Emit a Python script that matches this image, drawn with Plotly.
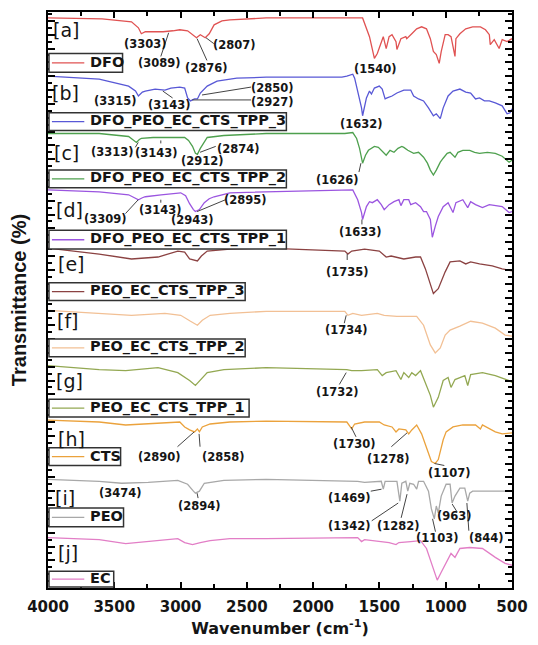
import plotly.graph_objects as go

# ---------------- data (wavenumber, relative transmittance) ----------------
names = ["DFO", "DFO_PEO_EC_CTS_TPP_3", "DFO_PEO_EC_CTS_TPP_2", "DFO_PEO_EC_CTS_TPP_1",
         "PEO_EC_CTS_TPP_3", "PEO_EC_CTS_TPP_2", "PEO_EC_CTS_TPP_1", "CTS", "PEO", "EC"]
tags = ["[a]", "[b]", "[c]", "[d]", "[e]", "[f]", "[g]", "[h]", "[i]", "[j]"]
colors = ["#e05252", "#5858d6", "#4ea04e", "#9b55e0", "#8b4242",
          "#f2c095", "#93a852", "#eba23c", "#a8a8a8", "#e27ec6"]
offsets = [477, 418, 360, 302, 243, 180, 123, 68, 8, -49]

wn_a = [4000, 3592, 3370, 3318, 3296, 3266, 3207, 3132, 3058, 3006, 2947, 2903, 2880, 2851, 2836, 2814, 2784, 2747, 2688, 2628, 2354, 1627, 1575, 1553, 1538, 1516, 1486, 1471, 1449, 1427, 1405, 1375, 1368, 1338, 1301, 1294, 1256, 1219, 1182, 1145, 1116, 1093, 1071, 1049, 1034, 1004, 982, 960, 930, 923, 893, 849, 797, 738, 700, 671, 664, 634, 597, 574, 537, 500]
t_a = [100, 99, 96, 90, 84, 86, 86, 86, 87, 88, 87, 82, 80, 83, 82, 80, 84, 93, 97, 98, 100, 100, 81, 66, 59, 64, 76, 81, 69, 81, 83, 76, 68, 79, 81, 79, 84, 89, 91, 89, 79, 66, 63, 54, 66, 83, 83, 81, 61, 79, 84, 89, 91, 91, 88, 83, 73, 78, 69, 78, 76, 79]

wn_b = [4000, 3614, 3392, 3340, 3318, 3288, 3266, 3192, 3118, 3073, 3006, 2969, 2947, 2925, 2895, 2873, 2851, 2799, 2725, 2576, 2354, 1783, 1746, 1724, 1701, 1687, 1664, 1635, 1627, 1612, 1598, 1575, 1560, 1538, 1501, 1479, 1457, 1442, 1405, 1368, 1316, 1264, 1242, 1205, 1167, 1130, 1093, 1071, 1041, 1019, 982, 945, 893, 849, 812, 775, 745, 708, 671, 626, 574, 537, 515, 500]
t_b = [100, 97, 90, 85, 80, 84, 85, 87, 86, 88, 89, 88, 78, 75, 77, 77, 83, 90, 95, 98, 99, 99, 100, 101, 102, 98, 85, 68, 60, 68, 78, 85, 82, 88, 90, 87, 77, 78, 80, 83, 86, 86, 80, 77, 75, 68, 60, 62, 57, 68, 80, 85, 87, 84, 83, 77, 78, 75, 75, 73, 70, 62, 63, 67]

wn_c = [4000, 3614, 3392, 3348, 3333, 3311, 3296, 3207, 3147, 3058, 2969, 2940, 2910, 2888, 2873, 2851, 2821, 2799, 2673, 2354, 1761, 1701, 1672, 1650, 1627, 1605, 1583, 1560, 1538, 1508, 1486, 1449, 1420, 1390, 1360, 1331, 1316, 1286, 1242, 1205, 1167, 1138, 1116, 1093, 1071, 1041, 1019, 989, 967, 945, 930, 908, 871, 819, 782, 745, 686, 626, 574, 522, 500]
t_c = [100, 100, 97, 93, 91, 94, 95, 96, 96, 96, 96, 93, 87, 80, 79, 85, 91, 96, 98, 100, 100, 101, 95, 85, 70, 78, 83, 85, 87, 86, 83, 78, 83, 81, 85, 87, 86, 83, 80, 81, 76, 70, 63, 58, 63, 71, 75, 80, 81, 78, 76, 81, 83, 83, 81, 80, 81, 80, 77, 71, 73]

wn_d = [4000, 3614, 3392, 3340, 3318, 3288, 3266, 3147, 2999, 2962, 2932, 2903, 2888, 2858, 2821, 2784, 2747, 2628, 2354, 1701, 1664, 1635, 1627, 1598, 1575, 1553, 1516, 1486, 1464, 1427, 1390, 1353, 1338, 1316, 1279, 1264, 1227, 1190, 1167, 1145, 1116, 1101, 1079, 1056, 1019, 982, 945, 923, 871, 834, 812, 775, 723, 671, 574, 522, 500]
t_d = [101, 99, 96, 93, 91, 93, 94, 96, 98, 95, 87, 81, 79, 81, 88, 92, 94, 98, 99, 101, 91, 78, 71, 84, 89, 88, 91, 86, 81, 86, 89, 91, 85, 91, 91, 86, 88, 84, 79, 79, 71, 53, 64, 74, 84, 88, 78, 88, 91, 83, 89, 86, 83, 86, 84, 78, 79]

wn_e = [4000, 3614, 3370, 3170, 3021, 2969, 2932, 2873, 2843, 2799, 2628, 2354, 1761, 1738, 1709, 1612, 1501, 1449, 1412, 1316, 1227, 1190, 1153, 1116, 1093, 1056, 1004, 967, 893, 849, 812, 745, 649, 574, 500]
t_e = [101, 95, 90, 92, 98, 97, 90, 88, 93, 98, 100, 101, 98, 95, 98, 100, 98, 92, 93, 90, 92, 92, 80, 63, 55, 60, 77, 87, 88, 85, 87, 85, 83, 80, 78]

wn_f = [4000, 3614, 3370, 3118, 2999, 2925, 2873, 2836, 2777, 2628, 2354, 1761, 1738, 1701, 1635, 1516, 1464, 1368, 1219, 1167, 1116, 1079, 1041, 1004, 967, 893, 849, 812, 723, 626, 552, 500]
t_f = [101, 98, 96, 98, 96, 90, 86, 91, 96, 98, 100, 100, 96, 98, 96, 98, 96, 95, 95, 86, 66, 58, 63, 76, 81, 85, 88, 90, 88, 83, 76, 75]

wn_g = [4000, 3614, 3414, 3170, 3021, 2932, 2888, 2851, 2799, 2673, 2354, 1746, 1709, 1635, 1516, 1479, 1449, 1375, 1338, 1316, 1279, 1256, 1227, 1190, 1145, 1116, 1093, 1056, 1019, 982, 960, 930, 893, 856, 834, 812, 723, 626, 522, 500]
t_g = [102, 98, 97, 100, 95, 87, 82, 87, 95, 98, 100, 98, 97, 97, 98, 92, 95, 97, 88, 95, 90, 95, 92, 97, 82, 72, 60, 70, 87, 90, 80, 88, 90, 92, 82, 93, 95, 92, 87, 85]

wn_h = [4000, 3614, 3414, 3170, 3006, 2969, 2932, 2895, 2873, 2858, 2836, 2777, 2628, 2354, 1746, 1709, 1687, 1612, 1501, 1464, 1405, 1375, 1353, 1301, 1279, 1256, 1219, 1182, 1145, 1108, 1079, 1056, 1019, 997, 945, 871, 775, 738, 723, 626, 574, 500]
t_h = [102, 100, 97, 99, 100, 95, 92, 90, 93, 90, 95, 98, 100, 101, 100, 93, 98, 100, 100, 97, 95, 90, 93, 92, 88, 92, 97, 88, 75, 60, 58, 62, 82, 90, 95, 97, 97, 93, 97, 90, 88, 89]

wn_i = [4000, 3614, 3444, 3244, 3021, 2947, 2903, 2888, 2858, 2821, 2673, 2354, 1664, 1612, 1486, 1471, 1457, 1368, 1346, 1331, 1301, 1286, 1271, 1242, 1219, 1205, 1167, 1130, 1108, 1086, 1071, 1056, 1034, 997, 967, 952, 930, 893, 856, 834, 819, 797, 626, 500]
t_i = [102, 100, 98, 99, 101, 97, 90, 88, 90, 98, 101, 102, 100, 99, 100, 92, 100, 100, 80, 98, 100, 90, 98, 97, 92, 100, 100, 90, 72, 62, 75, 68, 85, 97, 97, 78, 85, 93, 93, 80, 88, 90, 90, 90]

wn_j = [4000, 3614, 3414, 3244, 3021, 2969, 2910, 2851, 2777, 2628, 2354, 1664, 1635, 1612, 1464, 1427, 1375, 1353, 1264, 1190, 1145, 1108, 1064, 1034, 997, 960, 930, 893, 819, 723, 626, 552, 500]
t_j = [100, 98, 94, 96, 99, 95, 93, 95, 97, 99, 99, 100, 96, 98, 95, 95, 93, 95, 96, 97, 89, 75, 57, 65, 75, 84, 80, 89, 90, 89, 80, 74, 72]

spectra_x = [wn_a, wn_b, wn_c, wn_d, wn_e, wn_f, wn_g, wn_h, wn_i, wn_j]
spectra_t = [t_a, t_b, t_c, t_d, t_e, t_f, t_g, t_h, t_i, t_j]

# peak labels: text, text centre (px), leader line (px) or None
peak_labels = [
    ("(3303)", (147, 42), None),
    ("(3089)", (162, 62), ((163, 55), (171, 31))),
    ("(2876)", (210, 67), ((210, 59), (200, 37))),
    ("(2807)", (238, 43), ((217, 42), (209, 36))),
    ("(1540)", (382, 68), None),
    ("(3315)", (117, 100), None),
    ("(3143)", (172, 104), ((165, 90), (175, 97))),
    ("(2850)", (277, 87), ((205, 94), (255, 86))),
    ("(2927)", (277, 101), ((195, 99), (255, 99))),
    ("(1632)", (368, 123), None),
    ("(3313)", (114, 152), ((137, 147), (140, 142))),
    ("(3143)", (159, 153), ((163, 143), (163, 140))),
    ("(2912)", (206, 161), None),
    ("(2874)", (242, 149), ((219, 146), (203, 152))),
    ("(1626)", (343, 180), ((365, 172), (367, 163))),
    ("(3309)", (107, 220), ((127, 214), (140, 200))),
    ("(3143)", (163, 210), ((163, 200), (163, 203))),
    ("(2943)", (195, 221), None),
    ("(2895)", (249, 200), ((229, 200), (200, 212))),
    ("(1633)", (367, 233), ((368, 220), (368, 225))),
    ("(1735)", (353, 273), ((353, 255), (353, 261))),
    ("(1734)", (352, 332), ((352, 317), (350, 325))),
    ("(1732)", (343, 395), ((352, 375), (345, 387))),
    ("(2890)", (162, 460), ((180, 450), (197, 435))),
    ("(2858)", (227, 460), ((203, 450), (202, 437))),
    ("(1730)", (360, 447), ((357, 430), (362, 440))),
    ("(1278)", (395, 462), ((398, 450), (414, 436))),
    ("(1107)", (457, 477), ((442, 467), (452, 469))),
    ("(3474)", (122, 497), None),
    ("(2894)", (202, 510), ((200, 497), (201, 502))),
    ("(1469)", (355, 502), ((377, 495), (388, 493))),
    ("(1342)", (355, 530), ((378, 525), (405, 507))),
    ("(1282)", (405, 530), ((408, 522), (414, 498))),
    ("(1103)", (445, 542), ((443, 536), (440, 523))),
    ("(963)", (462, 520), ((465, 516), (460, 508))),
    ("(844)", (495, 542), ((477, 535), (475, 507))),
]

# ---------------- layout geometry ----------------
W, H = 538, 645
L, T, PW, PH = 48, 10, 473, 583
BOLD = "DejaVu Sans, Verdana, sans-serif"


def PX(x):
    return (x - L) / PW


def PY(y):
    return (T + PH - y) / PH


tag_pos = [(66, 28), (66, 92), (67, 153), (70, 210), (72, 265),
           (68, 323), (70, 383), (72, 442), (65, 502), (68, 558)]
legend_boxes = [(49, 52, 124, 71), (49, 112, 291, 130), (49, 170, 291, 188),
                (49, 231, 291, 250), (49, 284, 249, 302), (49, 341, 249, 359),
                (49, 402, 253, 420), (49, 451, 122, 469), (49, 512, 125, 531),
                (49, 576, 115, 592)]

fig = go.Figure()
for nm, col, off, xs, ts in zip(names, colors, offsets, spectra_x, spectra_t):
    fig.add_trace(go.Scatter(x=xs, y=[v + off for v in ts], mode="lines", name=nm,
                             line=dict(color=col, width=1.3), showlegend=False))

shapes = []
annotations = []
font_lab = dict(family=BOLD, size=11.5, color="#151515", weight="bold")

for (txt, (tx, ty), ln) in peak_labels:
    annotations.append(dict(x=PX(tx), y=PY(ty), xref="paper", yref="paper", text=txt,
                            showarrow=False, font=font_lab, xanchor="center", yanchor="middle"))
    if ln is not None:
        (x0, y0), (x1, y1) = ln
        shapes.append(dict(type="line", xref="paper", yref="paper", x0=PX(x0), y0=PY(y0),
                           x1=PX(x1), y1=PY(y1), line=dict(color="#444", width=1)))

for tg, (tx, ty) in zip(tags, tag_pos):
    annotations.append(dict(x=PX(tx), y=PY(ty), xref="paper", yref="paper", text=tg,
                            showarrow=False, xanchor="center", yanchor="middle",
                            font=dict(family="DejaVu Sans, sans-serif", size=19, color="#151515")))

for nm, col, (x0, y0, x1, y1) in zip(names, colors, legend_boxes):
    shapes.append(dict(type="rect", xref="paper", yref="paper", x0=PX(x0), y0=PY(y0),
                       x1=PX(x1), y1=PY(y1), line=dict(color="#333", width=1.5),
                       fillcolor="white", layer="above"))
    ym = (y0 + y1) / 2
    shapes.append(dict(type="line", xref="paper", yref="paper", x0=PX(52), y0=PY(ym),
                       x1=PX(85), y1=PY(ym), line=dict(color=col, width=1.3), layer="above"))
    annotations.append(dict(x=PX(89), y=PY(ym - 1), xref="paper", yref="paper", text=nm,
                            showarrow=False, xanchor="left", yanchor="middle",
                            font=dict(family=BOLD, size=14.5, color="#151515", weight="bold")))

fig.update_layout(
    width=W, height=H,
    margin=dict(l=L, r=W - L - PW, t=T, b=H - T - PH),
    paper_bgcolor="white", plot_bgcolor="white",
    shapes=shapes, annotations=annotations,
    xaxis=dict(range=[4000, 500], tickmode="linear", tick0=0, dtick=500,
               ticks="inside", ticklen=6, tickwidth=1.5, tickcolor="black",
               minor=dict(ticks="inside", dtick=250, ticklen=4, tickwidth=1.5, tickcolor="black"),
               showline=True, linewidth=2, linecolor="black", mirror="ticks",
               showgrid=False, zeroline=False, ticklabelstandoff=4,
               tickfont=dict(family=BOLD, size=15, color="#151515", weight="bold"),
               title=dict(text="Wavenumber (cm<sup>-1</sup>)", standoff=8,
                          font=dict(family=BOLD, size=16, color="#151515", weight="bold"))),
    yaxis=dict(range=[0, 583], tickmode="linear", tick0=0, dtick=14,
               ticks="inside", ticklen=7, tickwidth=1.5, tickcolor="black",
               minor=dict(ticks="inside", dtick=7, ticklen=4, tickwidth=1.5, tickcolor="black"),
               showline=True, linewidth=2, linecolor="black", mirror="ticks",
               showgrid=False, zeroline=False, showticklabels=False,
               title=dict(text="Transmittance (%)", standoff=14,
                          font=dict(family="Liberation Sans, Arial, sans-serif", size=20,
                                    color="#151515", weight="bold"))),
)

fig.write_html("out.html")
